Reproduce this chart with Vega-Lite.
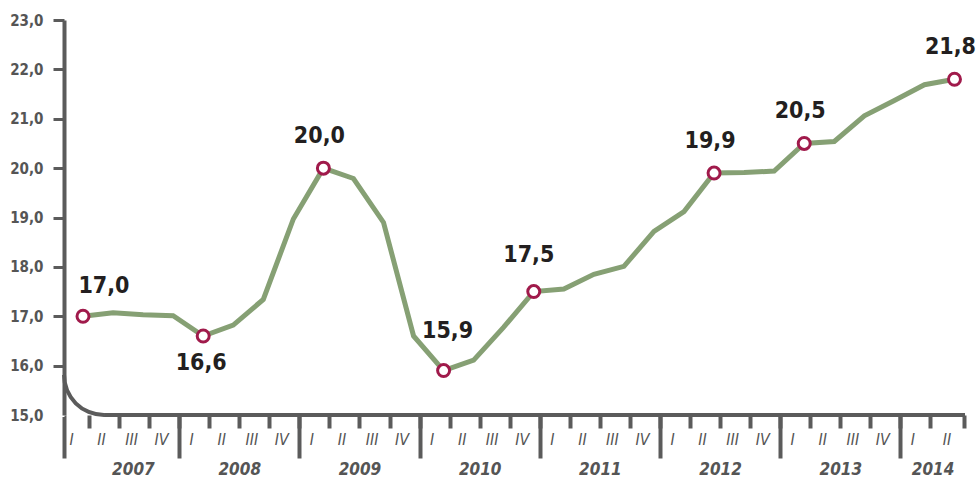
{
  "$schema": "https://vega.github.io/schema/vega-lite/v6.json",
  "width": 901,
  "height": 395,
  "autosize": {"type": "none"},
  "padding": {"left": 64, "top": 20, "right": 12, "bottom": 63},
  "background": "white",
  "config": {
    "view": {"stroke": null},
    "font": "DejaVu Sans Condensed, Liberation Sans Narrow, sans-serif",
    "locale": {"number": {"decimal": ",", "thousands": " ", "grouping": [3], "currency": ["", ""]}}
  },
  "data": {
    "values": [
      {"t": 0, "year": 2007, "q": "I", "v": 17.0, "m": true},
      {"t": 1, "year": 2007, "q": "II", "v": 17.07, "m": false},
      {"t": 2, "year": 2007, "q": "III", "v": 17.03, "m": false},
      {"t": 3, "year": 2007, "q": "IV", "v": 17.01, "m": false},
      {"t": 4, "year": 2008, "q": "I", "v": 16.6, "m": true},
      {"t": 5, "year": 2008, "q": "II", "v": 16.82, "m": false},
      {"t": 6, "year": 2008, "q": "III", "v": 17.34, "m": false},
      {"t": 7, "year": 2008, "q": "IV", "v": 18.97, "m": false},
      {"t": 8, "year": 2009, "q": "I", "v": 20.0, "m": true},
      {"t": 9, "year": 2009, "q": "II", "v": 19.79, "m": false},
      {"t": 10, "year": 2009, "q": "III", "v": 18.9, "m": false},
      {"t": 11, "year": 2009, "q": "IV", "v": 16.6, "m": false},
      {"t": 12, "year": 2010, "q": "I", "v": 15.9, "m": true},
      {"t": 13, "year": 2010, "q": "II", "v": 16.11, "m": false},
      {"t": 14, "year": 2010, "q": "III", "v": 16.78, "m": false},
      {"t": 15, "year": 2010, "q": "IV", "v": 17.5, "m": true},
      {"t": 16, "year": 2011, "q": "I", "v": 17.55, "m": false},
      {"t": 17, "year": 2011, "q": "II", "v": 17.85, "m": false},
      {"t": 18, "year": 2011, "q": "III", "v": 18.01, "m": false},
      {"t": 19, "year": 2011, "q": "IV", "v": 18.72, "m": false},
      {"t": 20, "year": 2012, "q": "I", "v": 19.12, "m": false},
      {"t": 21, "year": 2012, "q": "II", "v": 19.9, "m": true},
      {"t": 22, "year": 2012, "q": "III", "v": 19.91, "m": false},
      {"t": 23, "year": 2012, "q": "IV", "v": 19.94, "m": false},
      {"t": 24, "year": 2013, "q": "I", "v": 20.5, "m": true},
      {"t": 25, "year": 2013, "q": "II", "v": 20.54, "m": false},
      {"t": 26, "year": 2013, "q": "III", "v": 21.06, "m": false},
      {"t": 27, "year": 2013, "q": "IV", "v": 21.37, "m": false},
      {"t": 28, "year": 2014, "q": "I", "v": 21.69, "m": false},
      {"t": 29, "year": 2014, "q": "II", "v": 21.8, "m": true}
    ]
  },
  "resolve": {"axis": {"x": "independent", "y": "independent"}},
  "layer": [
    {
      "mark": {"type": "line", "color": "#86a074", "strokeWidth": 5},
      "encoding": {
        "x": {
          "field": "t", "type": "quantitative",
          "scale": {"domain": [-0.632, 29.35], "nice": false, "zero": false},
          "axis": {
            "orient": "bottom",
            "title": null,
            "values": [0.2, 1.2, 2.2, 3.2, 4.2, 5.2, 6.2, 7.2, 8.2, 9.2, 10.2, 11.2, 12.2, 13.2, 14.2, 15.2, 16.2, 17.2, 18.2, 19.2, 20.2, 21.2, 22.2, 23.2, 24.2, 25.2, 26.2, 27.2, 28.2, 29.33],
            "domain": false, "grid": false,
            "tickSize": 13, "tickWidth": 4, "tickColor": "#5b5b5b",
            "labelExpr": "floor(datum.value) % 4 == 0 ? 'I' : floor(datum.value) % 4 == 1 ? 'II' : floor(datum.value) % 4 == 2 ? 'III' : 'IV'",
            "labelOffset": -18, "labelPadding": 3,
            "labelFontSize": 16, "labelFontStyle": "italic", "labelColor": "#555555",
            "labelFlush": false, "labelOverlap": false, "labelBound": false
          }
        },
        "y": {
          "field": "v", "type": "quantitative",
          "scale": {"domain": [15, 23], "nice": false, "zero": false},
          "axis": {
            "orient": "left",
            "title": null,
            "values": [15, 16, 17, 18, 19, 20, 21, 22, 23],
            "format": ".1f",
            "grid": false,
            "domain": true,
            "domainColor": "#5b5b5b", "domainWidth": 4,
            "ticks": true,
            "tickColor": {"condition": {"test": "datum.value == 15", "value": "white"}, "value": "#5b5b5b"},
            "tickSize": 11, "tickWidth": 3,
            "labels": true,
            "labelPadding": 10, "labelFontSize": 15, "labelFontWeight": "bold", "labelColor": "#555555"
          }
        }
      }
    },
    {
      "data": {"values": [{}]},
      "mark": {"type": "rule", "color": "#5b5b5b", "strokeWidth": 4},
      "encoding": {
        "x": {
          "datum": 0.7, "type": "quantitative",
          "axis": {
            "orient": "bottom",
            "title": null,
            "values": [-0.63, 3.2, 7.2, 11.2, 15.2, 19.2, 23.2, 27.2],
            "domain": false, "grid": false, "labels": false,
            "tickSize": 43, "tickWidth": 4, "tickColor": "#5b5b5b"
          }
        },
        "x2": {"datum": 29.35},
        "y": {"datum": 15, "type": "quantitative", "axis": null}
      }
    },
    {
      "data": {"values": [{}]},
      "mark": {"type": "arc", "color": "#5b5b5b"},
      "encoding": {
        "x": {
          "datum": 0.7, "type": "quantitative",
          "axis": {
            "orient": "bottom",
            "title": null,
            "values": [1.66, 5.2, 9.2, 13.2, 17.2, 21.2, 25.2, 28.27],
            "domain": false, "grid": false, "ticks": false, "tickSize": 0,
            "labelExpr": "'' + (floor(datum.value / 4) + 2007)",
            "labelPadding": 46, "labelFontSize": 17, "labelFontWeight": "bold", "labelFontStyle": "italic", "labelColor": "#555555",
            "labelFlush": false, "labelOverlap": false, "labelBound": false
          }
        },
        "y": {"datum": 15.81, "type": "quantitative", "axis": null},
        "theta": {"value": 3.1416},
        "theta2": {"value": 4.7124},
        "radius": {"value": 42},
        "radius2": {"value": 38}
      }
    },
    {
      "transform": [{"filter": "datum.m"}],
      "mark": {"type": "circle", "fill": "white", "stroke": "#a01a4b", "strokeWidth": 3, "size": 144, "opacity": 1},
      "encoding": {
        "x": {"field": "t", "type": "quantitative", "axis": null},
        "y": {"field": "v", "type": "quantitative", "axis": null}
      }
    },
    {
      "transform": [{"filter": "datum.t == 8 || datum.t == 21 || datum.t == 24 || datum.t == 29"}],
      "mark": {"type": "text", "fontSize": 23, "fontWeight": "bold", "color": "#231f20", "align": "center", "baseline": "middle", "dx": -4, "dy": -32},
      "encoding": {
        "x": {"field": "t", "type": "quantitative", "axis": null},
        "y": {"field": "v", "type": "quantitative", "axis": null},
        "text": {"field": "v", "type": "quantitative", "format": ".1f"}
      }
    },
    {
      "transform": [{"filter": "datum.t == 15"}],
      "mark": {"type": "text", "fontSize": 23, "fontWeight": "bold", "color": "#231f20", "align": "center", "baseline": "middle", "dx": -5, "dy": -37},
      "encoding": {
        "x": {"field": "t", "type": "quantitative", "axis": null},
        "y": {"field": "v", "type": "quantitative", "axis": null},
        "text": {"field": "v", "type": "quantitative", "format": ".1f"}
      }
    },
    {
      "transform": [{"filter": "datum.t == 0"}],
      "mark": {"type": "text", "fontSize": 23, "fontWeight": "bold", "color": "#231f20", "align": "center", "baseline": "middle", "dx": 21, "dy": -30},
      "encoding": {
        "x": {"field": "t", "type": "quantitative", "axis": null},
        "y": {"field": "v", "type": "quantitative", "axis": null},
        "text": {"field": "v", "type": "quantitative", "format": ".1f"}
      }
    },
    {
      "transform": [{"filter": "datum.t == 4"}],
      "mark": {"type": "text", "fontSize": 23, "fontWeight": "bold", "color": "#231f20", "align": "center", "baseline": "middle", "dx": -2, "dy": 27},
      "encoding": {
        "x": {"field": "t", "type": "quantitative", "axis": null},
        "y": {"field": "v", "type": "quantitative", "axis": null},
        "text": {"field": "v", "type": "quantitative", "format": ".1f"}
      }
    },
    {
      "transform": [{"filter": "datum.t == 12"}],
      "mark": {"type": "text", "fontSize": 23, "fontWeight": "bold", "color": "#231f20", "align": "center", "baseline": "middle", "dx": 4, "dy": -40},
      "encoding": {
        "x": {"field": "t", "type": "quantitative", "axis": null},
        "y": {"field": "v", "type": "quantitative", "axis": null},
        "text": {"field": "v", "type": "quantitative", "format": ".1f"}
      }
    }
  ]
}
